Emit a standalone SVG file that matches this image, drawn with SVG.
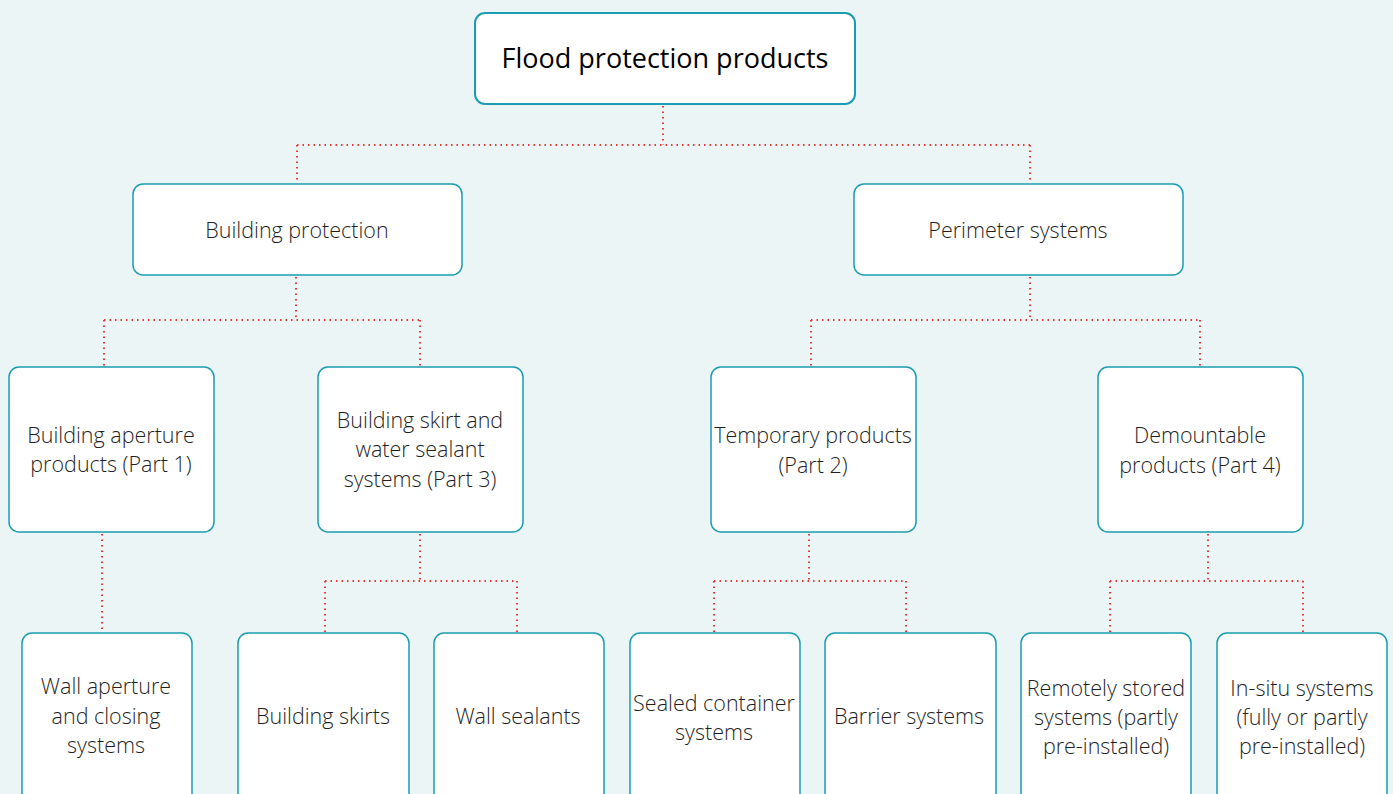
<svg xmlns="http://www.w3.org/2000/svg" width="1393" height="794" viewBox="0 0 1393 794">
<style>
.box{fill:#fff;stroke:#1a9db0;stroke-width:1.5}
.t{font-family:"Open Sans","Noto Sans",sans-serif;font-size:21.5px;font-weight:300;fill:#1f1f1f;text-anchor:middle}
.title{font-family:"Open Sans","Noto Sans",sans-serif;font-size:27px;font-weight:500;fill:#000;text-anchor:middle}
.c{fill:none;stroke:#e53935;stroke-width:2;stroke-dasharray:1.5 4}
</style>
<rect width="1393" height="794" fill="#ecf5f6"/>
<g id="connectors">
<path class="c" d="M663 106V145M297 145H1030M297 145V183M1030 145V183"/>
<path class="c" d="M296 277V320M104 320H420M104 320V366M420 320V366"/>
<path class="c" d="M1030 277V320M811 320H1200M811 320V366M1200 320V366"/>
<path class="c" d="M102 534V632"/>
<path class="c" d="M420 534V581M325 581H517M325 581V632M517 581V632"/>
<path class="c" d="M809 534V581M714 581H906M714 581V632M906 581V632"/>
<path class="c" d="M1208 534V581M1110 581H1303M1110 581V632M1303 581V632"/>
</g>
<g id="root"><rect class="box" x="475" y="13" width="380" height="91" rx="10" style="stroke-width:2"/><text class="title" x="665" y="68">Flood protection products</text></g>
<g id="building-protection"><rect class="box" x="133" y="184" width="329" height="91" rx="10"/><text class="t" x="297" y="238">Building protection</text></g>
<g id="perimeter-systems"><rect class="box" x="854" y="184" width="329" height="91" rx="10"/><text class="t" x="1018" y="238">Perimeter systems</text></g>
<g id="aperture-products"><rect class="box" x="9" y="367" width="205" height="165" rx="10"/><text class="t" x="111" y="443">Building aperture</text><text class="t" x="111" y="472">products (Part 1)</text></g>
<g id="skirt-sealant"><rect class="box" x="318" y="367" width="205" height="165" rx="10"/><text class="t" x="420" y="428">Building skirt and</text><text class="t" x="420" y="457">water sealant</text><text class="t" x="420" y="487">systems (Part 3)</text></g>
<g id="temporary"><rect class="box" x="711" y="367" width="205" height="165" rx="10"/><text class="t" x="813" y="443">Temporary products</text><text class="t" x="813" y="473">(Part 2)</text></g>
<g id="demountable"><rect class="box" x="1098" y="367" width="205" height="165" rx="10"/><text class="t" x="1200" y="443">Demountable</text><text class="t" x="1200" y="473">products (Part 4)</text></g>
<g id="wall-aperture"><rect class="box" x="22" y="633" width="170" height="180" rx="10"/><text class="t" x="106" y="694">Wall aperture</text><text class="t" x="106" y="724">and closing</text><text class="t" x="106" y="753">systems</text></g>
<g id="building-skirts"><rect class="box" x="238" y="633" width="171" height="180" rx="10"/><text class="t" x="323" y="724">Building skirts</text></g>
<g id="wall-sealants"><rect class="box" x="434" y="633" width="170" height="180" rx="10"/><text class="t" x="518" y="724">Wall sealants</text></g>
<g id="sealed-container"><rect class="box" x="630" y="633" width="170" height="180" rx="10"/><text class="t" x="714" y="711">Sealed container</text><text class="t" x="714" y="740">systems</text></g>
<g id="barrier-systems"><rect class="box" x="825" y="633" width="171" height="180" rx="10"/><text class="t" x="909" y="724">Barrier systems</text></g>
<g id="remotely-stored"><rect class="box" x="1021" y="633" width="170" height="180" rx="10"/><text class="t" x="1106" y="696">Remotely stored</text><text class="t" x="1106" y="725">systems (partly</text><text class="t" x="1106" y="754">pre-installed)</text></g>
<g id="in-situ"><rect class="box" x="1217" y="633" width="170" height="180" rx="10"/><text class="t" x="1302" y="696">In-situ systems</text><text class="t" x="1302" y="725">(fully or partly</text><text class="t" x="1302" y="754">pre-installed)</text></g>
</svg>
